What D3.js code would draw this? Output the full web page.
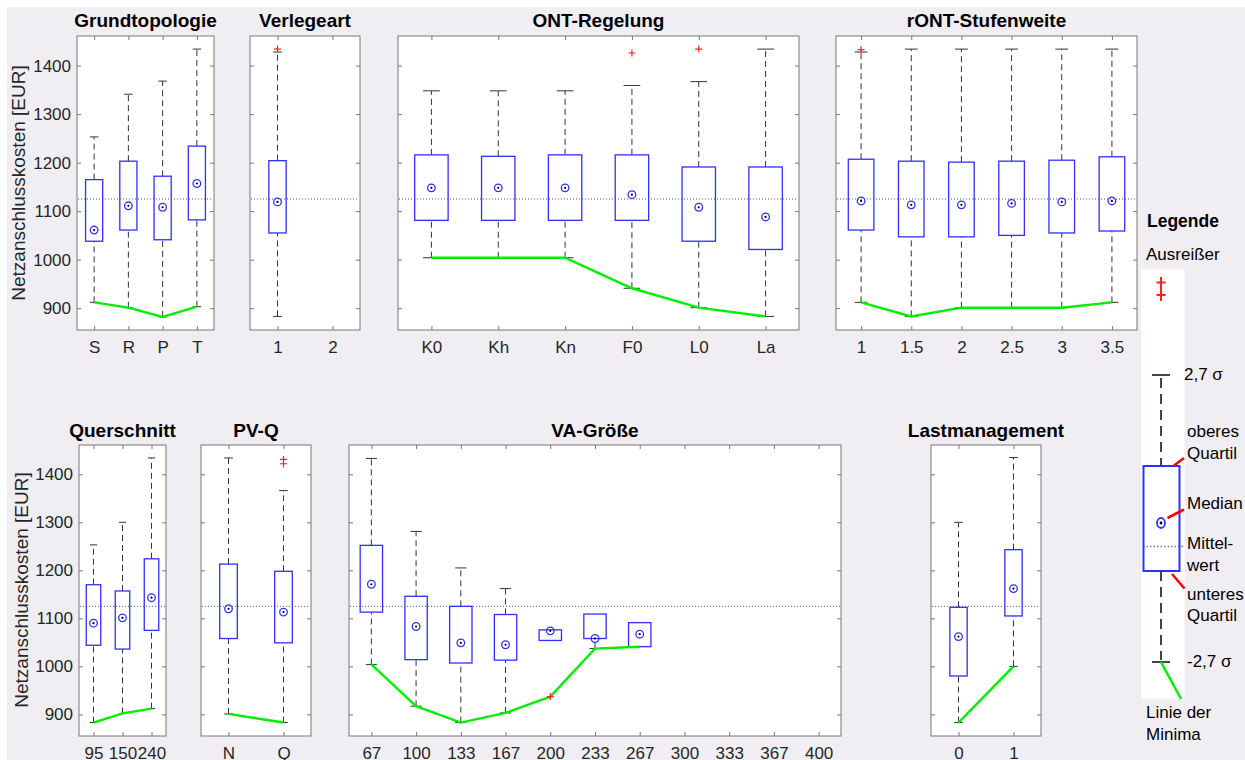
<!DOCTYPE html>
<html>
<head>
<meta charset="utf-8">
<script src="https://cdn.jsdelivr.net/npm/d3@7"></script>
<style>
  body { margin: 0; background: #fff; }
  svg { display: block; font-family: "Liberation Sans", Arial, sans-serif; }
</style>
</head>
<body>
<script>
// each stat row: [lower whisker, q1, median, q3, upper whisker], null = no data
const meanCost = 1125;
const yTicks = [900, 1000, 1100, 1200, 1300, 1400];

const grundCats = ["S", "R", "P", "T"];
const grundStats = [
    [912, 1038, 1061, 1165, 1253],
    [901, 1061, 1111, 1203, 1341],
    [882, 1041, 1108, 1172, 1368],
    [903, 1082, 1157, 1234, 1434]
];
const grundOutliers = [];

const verlegeCats = ["1", "2"];
const verlegeStats = [
    [883, 1055, 1119, 1204, 1428],
    null
];
const verlegeOutliers = [["1", 1434]];

const ontCats = ["K0", "Kh", "Kn", "F0", "L0", "La"];
const ontStats = [
    [1004, 1081, 1148, 1216, 1348],
    [1004, 1081, 1148, 1213, 1348],
    [1004, 1081, 1148, 1216, 1348],
    [941, 1081, 1134, 1216, 1359],
    [901, 1038, 1108, 1191, 1367],
    [883, 1021, 1088, 1191, 1434]
];
const ontOutliers = [["F0", 1426], ["L0", 1434]];

const rontCats = ["1", "1.5", "2", "2.5", "3", "3.5"];
const rontStats = [
    [912, 1061, 1121, 1207, 1428],
    [883, 1047, 1113, 1203, 1434],
    [901, 1047, 1113, 1201, 1434],
    [901, 1050, 1116, 1203, 1434],
    [901, 1055, 1119, 1205, 1434],
    [912, 1059, 1121, 1212, 1434]
];
const rontOutliers = [["1", 1433]];

const querCats = ["95", "150", "240"];
const querStats = [
    [883, 1044, 1090, 1170, 1253],
    [902, 1036, 1101, 1157, 1300],
    [912, 1075, 1143, 1224, 1434]
];
const querOutliers = [];

const pvqCats = ["N", "Q"];
const pvqStats = [
    [901, 1058, 1120, 1213, 1434],
    [883, 1049, 1113, 1198, 1366]
];
const pvqOutliers = [["Q", 1422], ["Q", 1431]];

const vaCats = ["67", "100", "133", "167", "200", "233", "267", "300", "333", "367", "400"];
const vaStats = [
    [1004, 1113, 1171, 1252, 1433],
    [917, 1014, 1083, 1146, 1281],
    [883, 1007, 1049, 1125, 1205],
    [903, 1013, 1045, 1108, 1162],
    [1054, 1054, 1074, 1076, 1076],
    [1037, 1058, 1058, 1109, 1109],
    [1041, 1041, 1067, 1091, 1091],
    null, null, null, null
];
const vaOutliers = [["200", 937]];

const lastCats = ["0", "1"];
const lastStats = [
    [883, 980, 1062, 1123, 1300],
    [1000, 1105, 1162, 1243, 1435]
];
const lastOutliers = [];

// layout
const W = 1245, H = 760;
const yDomain = [855, 1461];
const rows = [
    {top: 36, bottom: 330, titleY: 27, labelX: 18, labelY: 183},
    {top: 445, bottom: 736, titleY: 437, labelX: 21, labelY: 590}
];
const textColor = "#262626", axisColor = "#777";
const boxColor = "#2f2fff", green = "#00ee00", red = "#ff2020";

const panels = [
    {title: "Grundtopologie", cats: grundCats, stats: grundStats, outliers: grundOutliers, row: 0, x0: 77, x1: 214, frac: 0.5, yLabels: true},
    {title: "Verlegeart", cats: verlegeCats, stats: verlegeStats, outliers: verlegeOutliers, row: 0, x0: 250, x1: 360, frac: 0.315},
    {title: "ONT-Regelung", cats: ontCats, stats: ontStats, outliers: ontOutliers, row: 0, x0: 398, x1: 799, frac: 0.5},
    {title: "rONT-Stufenweite", cats: rontCats, stats: rontStats, outliers: rontOutliers, row: 0, x0: 836, x1: 1137, frac: 0.51},
    {title: "Querschnitt", cats: querCats, stats: querStats, outliers: querOutliers, row: 1, x0: 79, x1: 166, frac: 0.5, yLabels: true},
    {title: "PV-Q", cats: pvqCats, stats: pvqStats, outliers: pvqOutliers, row: 1, x0: 201, x1: 311, frac: 0.32},
    {title: "VA-Größe", cats: vaCats, stats: vaStats, outliers: vaOutliers, row: 1, x0: 349, x1: 841, frac: 0.5},
    {title: "Lastmanagement", cats: lastCats, stats: lastStats, outliers: lastOutliers, row: 1, x0: 931, x1: 1041, frac: 0.315}
];

const svg = d3.select("body").append("svg").attr("width", W).attr("height", H);
svg.append("rect").attr("x", 7).attr("y", 7).attr("width", W - 7).attr("height", H - 7).attr("fill", "#f0eef3");

function styleAxis(sel) {
    sel.select(".domain").remove();
    sel.attr("font-family", null).attr("font-size", 17);
    sel.selectAll("line").attr("stroke", axisColor);
    sel.selectAll("text").attr("fill", textColor);
}

function plus(g, cx, cy, r, w) {
    g.append("path")
        .attr("d", `M${cx - r},${cy}H${cx + r}M${cx},${cy - r}V${cy + r}`)
        .attr("stroke", red).attr("stroke-width", w).attr("fill", "none");
}

function drawPanel(p) {
    const row = rows[p.row];
    const y = d3.scaleLinear().domain(yDomain).range([row.bottom, row.top]);
    const x = d3.scalePoint().domain(p.cats).range([p.x0, p.x1]).padding(0.5);
    const bw = x.step() * p.frac;
    const g = svg.append("g");

    g.append("rect").attr("x", p.x0).attr("y", row.top)
        .attr("width", p.x1 - p.x0).attr("height", row.bottom - row.top).attr("fill", "#fff");

    g.append("line").attr("x1", p.x0 + 1).attr("x2", p.x1 - 1)
        .attr("y1", y(meanCost)).attr("y2", y(meanCost))
        .attr("stroke", "#555").attr("stroke-dasharray", "1,2");

    let data = p.cats.map((c, i) => ({cat: c, s: p.stats[i]})).filter(d => d.s);
    data.forEach(d => {
        let outs = p.outliers.filter(o => o[0] === d.cat).map(o => o[1]);
        d.min = Math.min(d.s[0], ...outs);
    });

    // whiskers
    data.forEach(d => {
        let cx = x(d.cat), s = d.s;
        [[s[0], s[1]], [s[3], s[4]]].forEach(([a, b]) => {
            if (a === b) return;
            g.append("line").attr("x1", cx).attr("x2", cx).attr("y1", y(a)).attr("y2", y(b))
                .attr("stroke", "#333").attr("stroke-dasharray", "6,4");
        });
        [[s[0], s[1]], [s[4], s[3]]].forEach(([v, edge]) => {
            if (v === edge) return;
            g.append("line").attr("x1", cx - bw / 4).attr("x2", cx + bw / 4)
                .attr("y1", y(v)).attr("y2", y(v)).attr("stroke", "#333");
        });
    });

    // boxes
    g.selectAll(".box").data(data).enter().append("rect")
        .attr("x", d => x(d.cat) - bw / 2)
        .attr("y", d => y(d.s[3]))
        .attr("width", bw)
        .attr("height", d => y(d.s[1]) - y(d.s[3]))
        .attr("fill", "none").attr("stroke", boxColor).attr("stroke-width", 1.3);

    // line of minima
    if (data.length > 1) {
        g.append("path").datum(data)
            .attr("d", d3.line().x(d => x(d.cat)).y(d => y(d.min)))
            .attr("fill", "none").attr("stroke", green).attr("stroke-width", 2.4);
    }

    // median markers
    data.forEach(d => {
        g.append("circle").attr("cx", x(d.cat)).attr("cy", y(d.s[2])).attr("r", 3.8)
            .attr("fill", "none").attr("stroke", boxColor).attr("stroke-width", 1.3);
        g.append("circle").attr("cx", x(d.cat)).attr("cy", y(d.s[2])).attr("r", 1.1).attr("fill", "#000");
    });

    p.outliers.forEach(o => plus(g, x(o[0]), y(o[1]), 3.5, 1.2));

    // axes
    g.append("g").attr("transform", `translate(${p.x0},0)`)
        .call(d3.axisLeft(y).tickValues(yTicks).tickSize(-4).tickSizeOuter(0).tickPadding(6)
            .tickFormat(p.yLabels ? d3.format("d") : ""))
        .call(styleAxis);
    g.append("g").attr("transform", `translate(${p.x1},0)`)
        .call(d3.axisRight(y).tickValues(yTicks).tickSize(-4).tickSizeOuter(0).tickFormat(""))
        .call(styleAxis);
    g.append("g").attr("transform", `translate(0,${row.bottom})`)
        .call(d3.axisBottom(x).tickSize(-4).tickSizeOuter(0).tickPadding(11))
        .call(styleAxis);
    g.append("g").attr("transform", `translate(0,${row.top})`)
        .call(d3.axisTop(x).tickSize(-4).tickSizeOuter(0).tickFormat(""))
        .call(styleAxis);

    g.append("rect").attr("x", p.x0).attr("y", row.top)
        .attr("width", p.x1 - p.x0).attr("height", row.bottom - row.top)
        .attr("fill", "none").attr("stroke", axisColor);

    g.append("text").attr("x", (p.x0 + p.x1) / 2).attr("y", row.titleY)
        .attr("text-anchor", "middle").attr("font-size", 19).attr("font-weight", "bold")
        .attr("fill", "#000").text(p.title);

    if (p.yLabels) {
        g.append("text")
            .attr("transform", `translate(${row.labelX},${row.labelY}) rotate(-90)`)
            .attr("text-anchor", "middle").attr("dy", "0.35em")
            .attr("font-size", 19).attr("fill", textColor)
            .text("Netzanschlusskosten [EUR]");
    }
}

panels.forEach(drawPanel);

// legend
const lg = svg.append("g");
lg.append("text").attr("x", 1147).attr("y", 227).attr("font-size", 17.5).attr("font-weight", "bold").text("Legende");
lg.append("text").attr("x", 1146).attr("y", 260).attr("font-size", 17).attr("fill", "#000").text("Ausreißer");
lg.append("rect").attr("x", 1141).attr("y", 269).attr("width", 43.5).attr("height", 430).attr("fill", "#fff");
// two stacked outlier crosses, sharing one vertical stroke
lg.append("path")
    .attr("d", "M1156.5,282.5H1165.5M1156.5,295H1165.5M1161,277V301")
    .attr("stroke", red).attr("stroke-width", 2).attr("fill", "none");

lg.append("line").attr("x1", 1161).attr("x2", 1161).attr("y1", 378).attr("y2", 466)
    .attr("stroke", "#444").attr("stroke-width", 2).attr("stroke-dasharray", "10,6");
lg.append("line").attr("x1", 1161).attr("x2", 1161).attr("y1", 571).attr("y2", 660)
    .attr("stroke", "#444").attr("stroke-width", 2).attr("stroke-dasharray", "10,6");
[375, 662].forEach(v => lg.append("line").attr("x1", 1152).attr("x2", 1170).attr("y1", v).attr("y2", v)
    .attr("stroke", "#444").attr("stroke-width", 2));
lg.append("line").attr("x1", 1143).attr("x2", 1183).attr("y1", 546.5).attr("y2", 546.5)
    .attr("stroke", "#777").attr("stroke-width", 1.5).attr("stroke-dasharray", "1.5,2");
lg.append("rect").attr("x", 1143.5).attr("y", 466).attr("width", 36).attr("height", 105)
    .attr("fill", "none").attr("stroke", boxColor).attr("stroke-width", 2);
lg.append("ellipse").attr("cx", 1161).attr("cy", 523).attr("rx", 4).attr("ry", 5)
    .attr("fill", "none").attr("stroke", boxColor).attr("stroke-width", 1.8);
lg.append("circle").attr("cx", 1161).attr("cy", 523).attr("r", 1.4).attr("fill", "#000");
lg.append("line").attr("x1", 1161).attr("y1", 662).attr("x2", 1181).attr("y2", 699)
    .attr("stroke", green).attr("stroke-width", 2.5);
[[1174, 465.5, 1184, 458], [1167.5, 518, 1184, 509.5], [1172, 574, 1184.5, 588.5]].forEach(l =>
    lg.append("line").attr("x1", l[0]).attr("y1", l[1]).attr("x2", l[2]).attr("y2", l[3])
        .attr("stroke", "#ff0000").attr("stroke-width", 2.6));

const legendTexts = [
    ["2,7 σ", 1184, 374], ["oberes", 1187, 431.5], ["Quartil", 1187, 453],
    ["Median", 1187, 503], ["Mittel-", 1187, 543.5], ["wert", 1187, 565],
    ["unteres", 1187, 594.5], ["Quartil", 1187, 615.5], ["-2,7 σ", 1187, 661.5],
    ["Linie der", 1146, 712], ["Minima", 1146, 734]
];
legendTexts.forEach(t => lg.append("text").attr("x", t[1]).attr("y", t[2]).attr("dy", "0.35em")
    .attr("font-size", 17).attr("fill", "#000").text(t[0]));
</script>
</body>
</html>
